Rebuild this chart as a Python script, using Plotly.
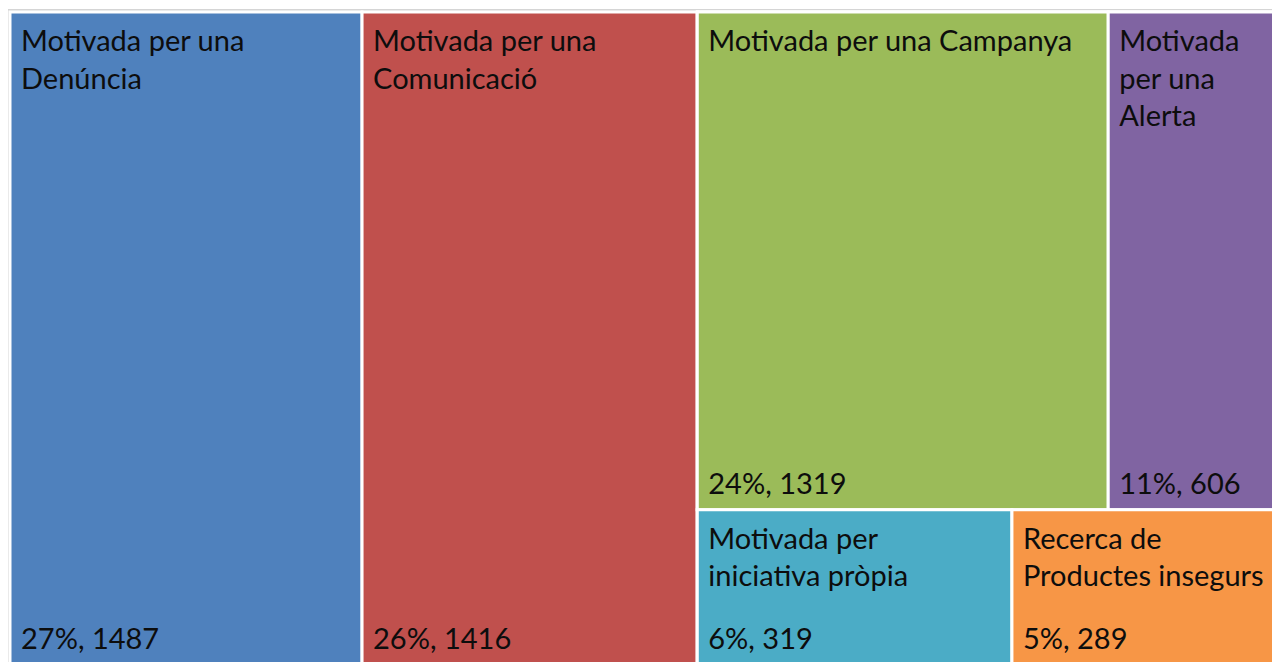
import plotly.graph_objects as go

# --- data ---
categories = [
    "Motivada per una Denúncia",
    "Motivada per una Comunicació",
    "Motivada per una Campanya",
    "Motivada per una Alerta",
    "Motivada per iniciativa pròpia",
    "Recerca de Productes insegurs",
]
display_labels = [
    "Motivada per una<br>Denúncia",
    "Motivada per una<br>Comunicació",
    "Motivada per una Campanya",
    "Motivada<br>per una<br>Alerta",
    "Motivada per<br>iniciativa pròpia",
    "Recerca de<br>Productes insegurs",
]
values = [1487, 1416, 1319, 606, 319, 289]
colors = ["#4F81BD", "#C0504D", "#9BBB59", "#8064A2", "#4BACC6", "#F79646"]

# grouping used to reproduce the layout (hidden intermediate nodes)
leaf_ids = ["den", "com", "cam", "ale", "ini", "rec"]
leaf_parents = ["", "", "g2", "g2", "g3", "g3"]

total = sum(values)
pct_text = [f"{round(v / total * 100)}%, {v}" for v in values]

g2 = values[2] + values[3]
g3 = values[4] + values[5]
g1 = g2 + g3

ids = leaf_ids[:2] + ["g1", "g2", "g3"] + leaf_ids[2:]
parents = leaf_parents[:2] + ["", "g1", "g1"] + leaf_parents[2:]
vals = values[:2] + [g1, g2, g3] + values[2:]
labels = categories[:2] + ["", "", ""] + categories[2:]
top_txt = display_labels[:2] + ["", "", ""] + display_labels[2:]
bot_txt = pct_text[:2] + ["", "", ""] + pct_text[2:]
cols = colors[:2] + ["white", "white", "white"] + colors[2:]

FONT = "Lato, 'Open Sans', sans-serif"
FS = 29
W, H = 1300, 690

# tile area in figure pixels
X0, X1, Y0, Y1 = 2, 1289, 4, 659


def dom(dx=0, dtop=0, dbot=0):
    return dict(x=[(X0 + dx) / W, min(1, (X1 + dx) / W)],
                y=[1 - (Y1 + dbot) / H, 1 - (Y0 + dtop) / H])


common = dict(ids=ids, parents=parents, values=vals, labels=labels,
              branchvalues="total", tiling=dict(packing="slice-dice", pad=0),
              pathbar=dict(visible=False), sort=False, hoverinfo="skip")
clear = dict(colors=["rgba(0,0,0,0)"] * len(ids),
             line=dict(color="rgba(0,0,0,0)", width=0),
             pad=dict(t=0, l=0, r=0, b=0))

fig = go.Figure()
# coloured tiles
fig.add_trace(go.Treemap(
    **common, texttemplate="", textinfo="none",
    marker=dict(colors=cols, line=dict(color="white", width=3),
                pad=dict(t=0, l=0, r=0, b=0)),
    root=dict(color="white"), domain=dom(),
))
# category labels (top left)
fig.add_trace(go.Treemap(
    **common, text=top_txt, texttemplate="%{text}", textposition="top left",
    textfont=dict(family=FONT, size=FS, color="#0D0D0D"),
    marker=clear, root=dict(color="rgba(0,0,0,0)"), domain=dom(8, 7, 7),
))
# percentages and counts (bottom left)
fig.add_trace(go.Treemap(
    **common, text=bot_txt, texttemplate="%{text}", textposition="bottom left",
    textfont=dict(family=FONT, size=FS, color="#0D0D0D"),
    marker=clear, root=dict(color="rgba(0,0,0,0)"), domain=dom(8, 0, -9),
))

fig.update_layout(
    width=W, height=H,
    margin=dict(l=0, r=0, t=0, b=0),
    paper_bgcolor="white",
    showlegend=False,
    shapes=[dict(type="rect", xref="paper", yref="paper",
                 x0=1 / W, x1=1, y0=0, y1=1 - 2 / H,
                 line=dict(color="#D5D5D5", width=2),
                 fillcolor="rgba(0,0,0,0)", layer="below")],
)
fig.write_html("out.html")
